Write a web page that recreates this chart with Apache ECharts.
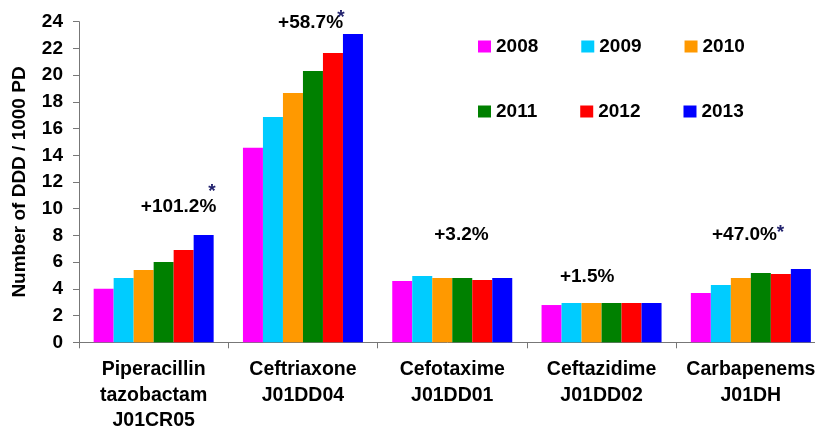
<!DOCTYPE html>
<html>
<head>
<meta charset="utf-8">
<script src="https://cdn.jsdelivr.net/npm/echarts@6/dist/echarts.min.js"></script>
<style>html,body{margin:0;padding:0;background:#fff;}#c{width:815px;height:430px;}</style>
</head>
<body>
<div id="c"></div>
<script>
var categories = ['Piperacillin\ntazobactam\nJ01CR05', 'Ceftriaxone\nJ01DD04', 'Cefotaxime\nJ01DD01', 'Ceftazidime\nJ01DD02', 'Carbapenems\nJ01DH'];
var years = ['2008', '2009', '2010', '2011', '2012', '2013'];
var v2008 = [4.0, 14.57, 4.59, 2.79, 3.69];
var v2009 = [4.81, 16.86, 4.96, 2.94, 4.29];
var v2010 = [5.41, 18.66, 4.81, 2.94, 4.81];
var v2011 = [6.01, 20.31, 4.81, 2.94, 5.19];
var v2012 = [6.91, 21.65, 4.66, 2.94, 5.11];
var v2013 = [8.03, 23.08, 4.81, 2.94, 5.49];
var yTicks = [0, 2, 4, 6, 8, 10, 12, 14, 16, 18, 20, 22, 24];
var changeLabels = ['+101.2%', '+58.7%', '+3.2%', '+1.5%', '+47.0%'];
var changeAnchor = [10.13, 23.9, 8.03, 4.89, 8.03];
var significant = [true, true, false, false, true];

var colors = ['#FF00FF', '#00CCFF', '#FF9900', '#008000', '#FF0000', '#0000FF'];
var FONT = '"Liberation Sans", Arial, sans-serif';
// offsets relative to the 2013 bar of each group
var labelDx = [-25.1, -42.4, -40.8, -64.4, -56.4];
var starOff = [[8.4, -15], [-11.9, -5], null, null, [-20.4, -2]];

var values = [v2008, v2009, v2010, v2011, v2012, v2013];

var markData = [];
for (var i = 0; i < categories.length; i++) {
  markData.push({
    coord: [i, changeAnchor[i]],
    label: { formatter: changeLabels[i], offset: [labelDx[i], 0] }
  });
  if (significant[i]) {
    markData.push({
      coord: [i, changeAnchor[i]],
      label: { formatter: '*', offset: starOff[i], color: '#22226E' }
    });
  }
}

var series = years.map(function (y, k) {
  var s = {
    name: y,
    type: 'bar',
    data: values[k],
    barWidth: 20,
    barGap: '0%',
    itemStyle: { color: colors[k] },
    emphasis: { disabled: true },
    animation: false
  };
  if (k === 5) {
    s.markPoint = {
      symbol: 'circle',
      symbolSize: 0,
      animation: false,
      label: {
        show: true,
        position: 'inside',
        color: '#000',
        fontFamily: FONT,
        fontWeight: 'bold',
        fontSize: 19
      },
      data: markData
    };
  }
  return s;
});

var legendCommon = {
  itemWidth: 13,
  itemHeight: 12,
  itemGap: 43,
  icon: 'rect',
  selectedMode: false,
  textStyle: { fontFamily: FONT, fontWeight: 'bold', fontSize: 19, color: '#000', padding: [0, 0, 0, 0] },
  left: 478,
  padding: 0
};

var chart = echarts.init(document.getElementById('c'), null, { renderer: 'canvas' });
chart.setOption({
  animation: false,
  backgroundColor: '#fff',
  grid: { left: 79, right: -10.5, top: 21.7, bottom: 87.7, containLabel: false, outerBoundsMode: 'none' },
  legend: [
    Object.assign({}, legendCommon, { data: years.slice(0, 3), top: 37 }),
    Object.assign({}, legendCommon, { data: years.slice(3, 6), top: 102 })
  ],
  xAxis: {
    type: 'category',
    data: categories,
    axisLine: { lineStyle: { color: '#777', width: 1 } },
    axisTick: { show: true, length: 6, lineStyle: { color: '#777' } },
    axisLabel: {
      interval: 0,
      margin: 15,
      fontFamily: FONT,
      fontWeight: 'bold',
      fontSize: 19.5,
      lineHeight: 25.5,
      color: '#000'
    }
  },
  yAxis: {
    type: 'value',
    min: yTicks[0],
    max: yTicks[yTicks.length - 1],
    interval: 2,
    name: 'Number of DDD / 1000 PD',
    nameLocation: 'middle',
    nameGap: 50,
    nameTextStyle: { fontFamily: FONT, fontWeight: 'bold', fontSize: 19, color: '#000' },
    axisLine: { show: true, lineStyle: { color: '#777', width: 1 } },
    axisTick: { show: true, length: 6, lineStyle: { color: '#777' } },
    splitLine: { show: false },
    axisLabel: {
      margin: 16,
      fontFamily: FONT,
      fontWeight: 'bold',
      fontSize: 19,
      color: '#000'
    }
  },
  series: series
});
</script>
</body>
</html>
